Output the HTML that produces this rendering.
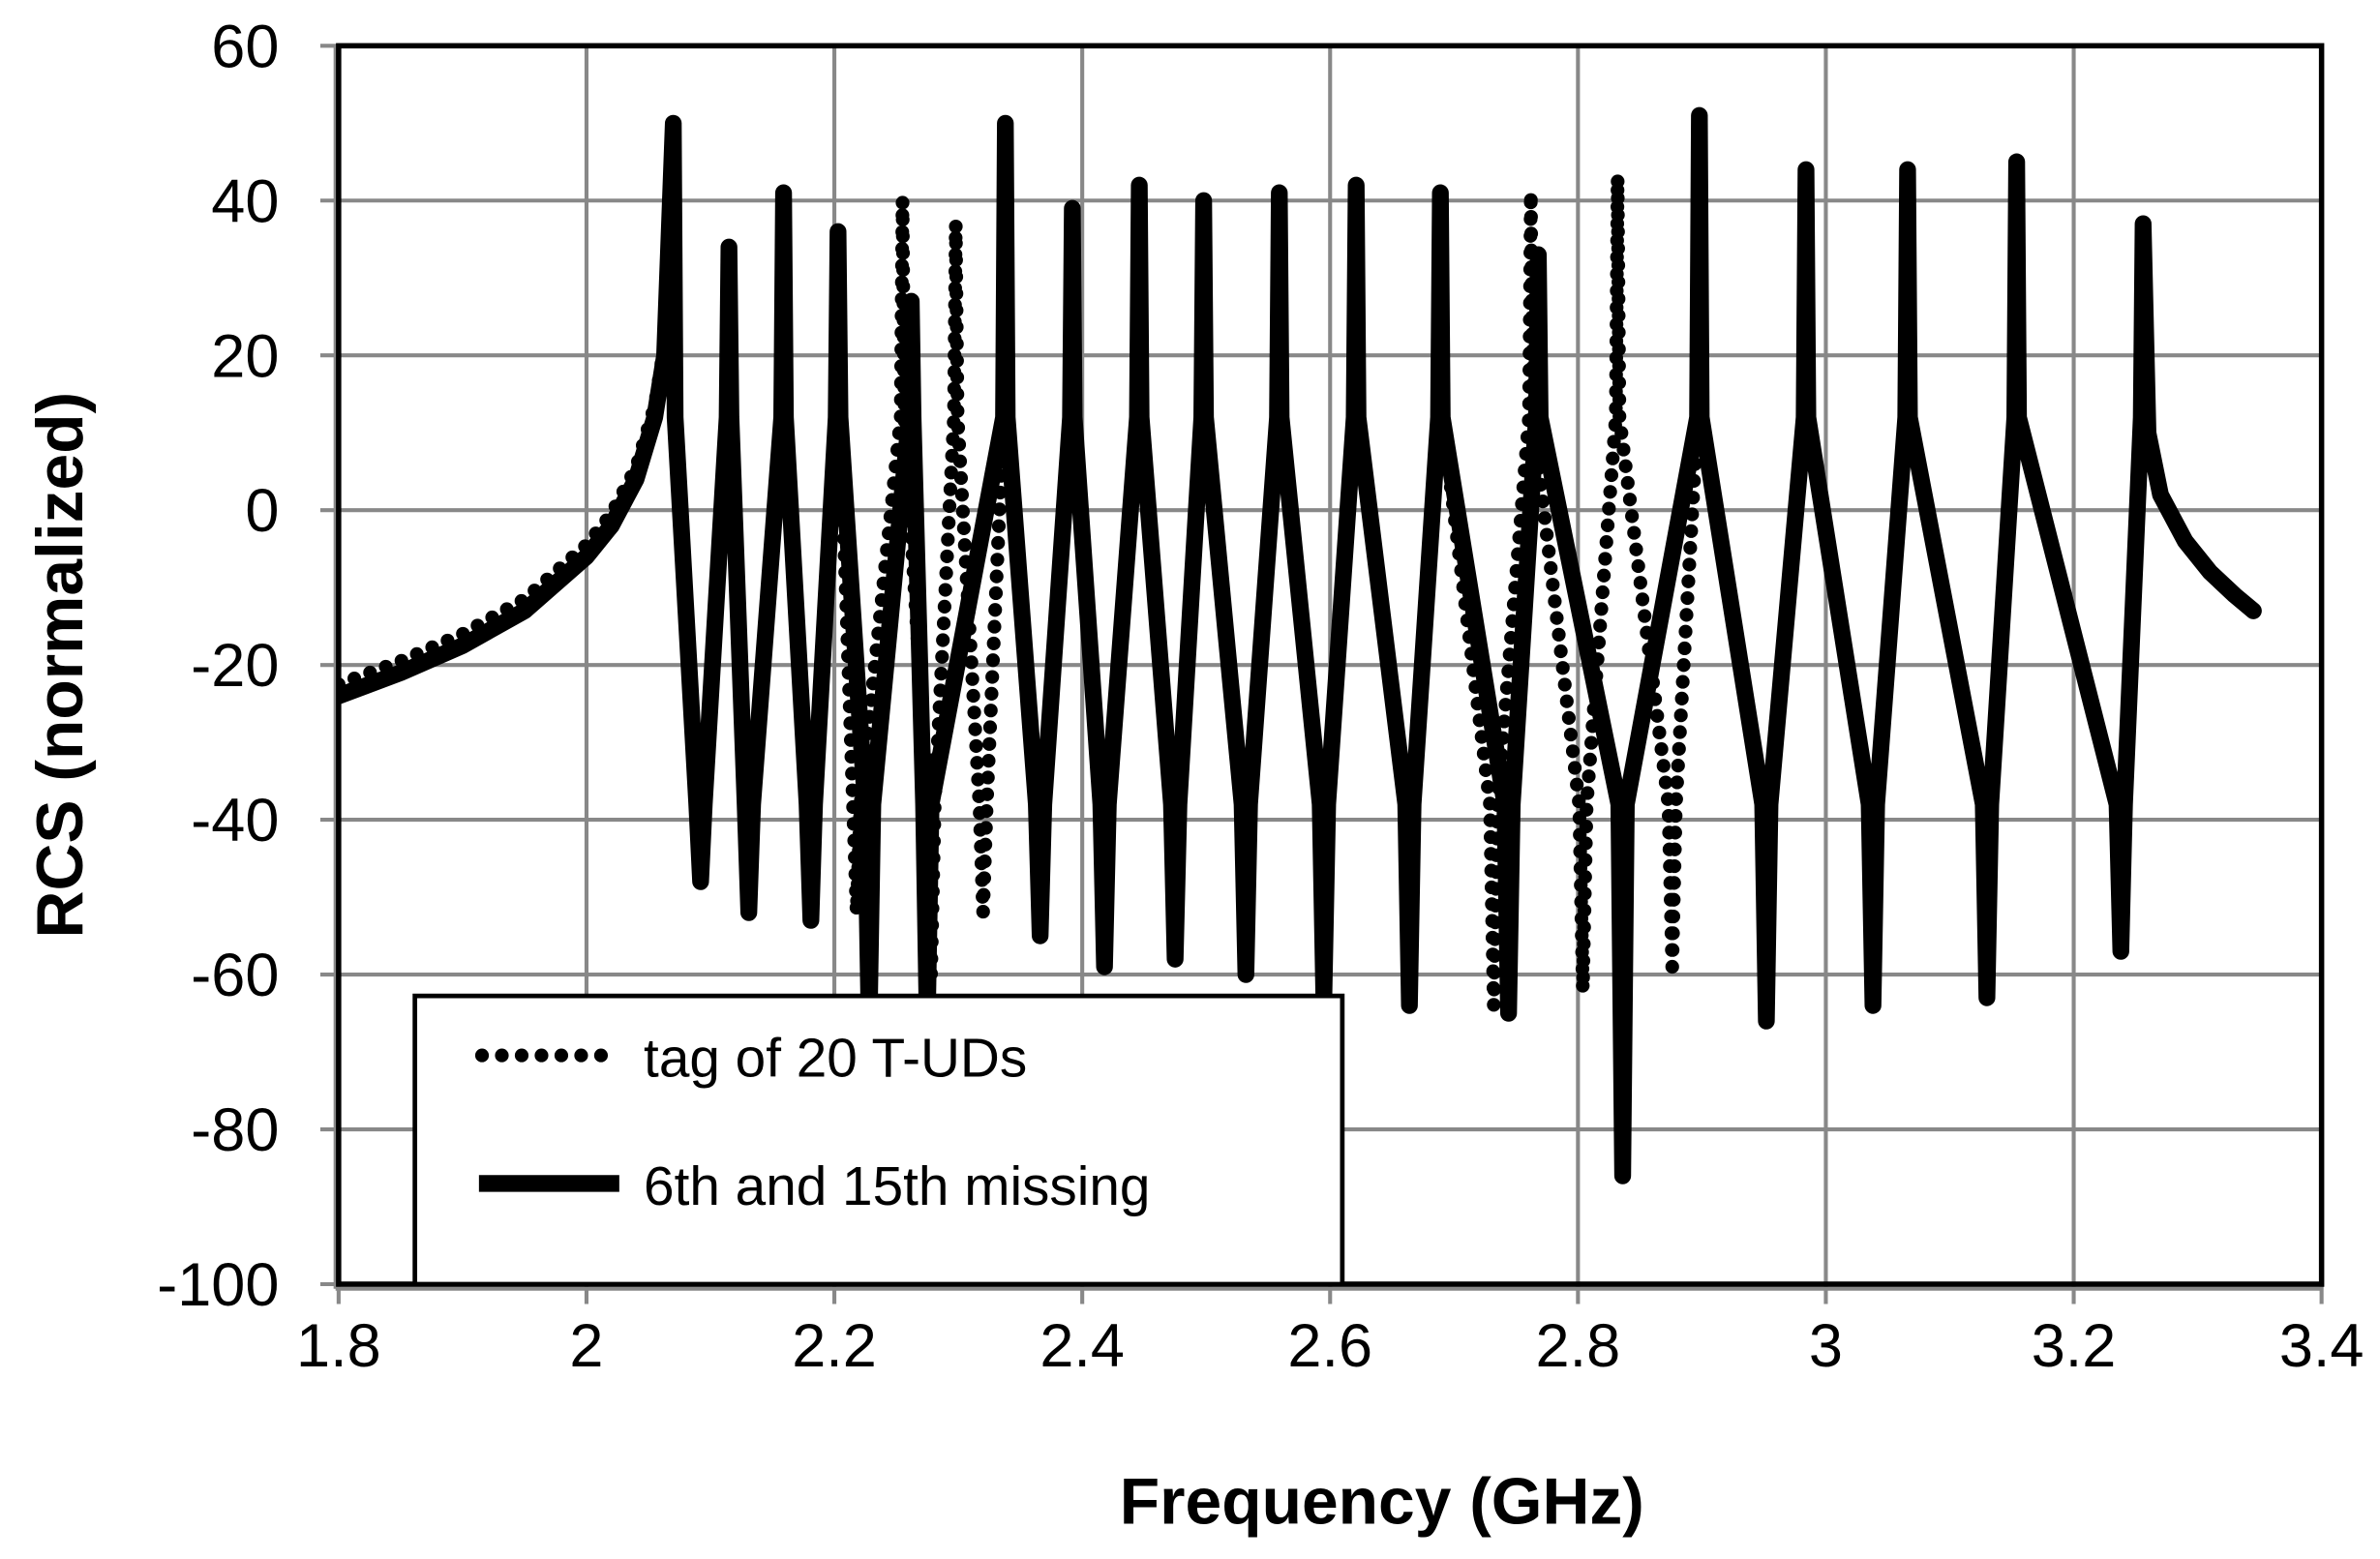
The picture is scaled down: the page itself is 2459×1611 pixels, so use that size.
<!DOCTYPE html>
<html><head><meta charset="utf-8"><style>
html,body{margin:0;padding:0;background:#fff}
svg{display:block}
text{font-family:"Liberation Sans",Arial,sans-serif;fill:#000}
</style></head><body>
<svg id="s" width="2459" height="1611" viewBox="0 0 1560.3 1022.2" xmlns="http://www.w3.org/2000/svg">
<g id="grid" stroke="#888" stroke-width="2.6"></g>
<g id="data"></g>
<rect x="222" y="30" width="1300" height="812" fill="none" stroke="#000" stroke-width="3.5"/>
<g id="lbl" font-size="40"></g>
<text x="906" y="999" font-size="43" font-weight="bold" text-anchor="middle">Frequency (GHz)</text>
<text transform="translate(54,436) rotate(-90)" font-size="43" font-weight="bold" text-anchor="middle">RCS (normalized)</text>
<rect x="272" y="653" width="608" height="189" fill="#fff" stroke="#000" stroke-width="3"/>
<line x1="316" y1="692" x2="404" y2="692" stroke="#000" stroke-width="9" stroke-linecap="round" stroke-dasharray="0 13"/>
<text x="422" y="706" font-size="36">tag of 20 T-UDs</text>
<line x1="314" y1="776" x2="406" y2="776" stroke="#000" stroke-width="11"/>
<text x="422" y="790" font-size="36">6th and 15th missing</text>
</svg>
<script>
var NS="http://www.w3.org/2000/svg";
function X(f){return 222+(f-1.8)*812.5;}
function Y(v){return 30+(60-v)*5.075;}
function el(t,a,p){var e=document.createElementNS(NS,t);for(var k in a)e.setAttribute(k,a[k]);p.appendChild(e);return e;}
var g=document.getElementById('grid'),L=document.getElementById('lbl');
for(var v=-100;v<=60;v+=20){var y=Y(v);el('line',{x1:210,y1:y,x2:1522,y2:y},g);
 var t=el('text',{x:183,y:y+14,'text-anchor':'end'},L);t.textContent=v;}
for(var i=0;i<=8;i++){var f=1.8+i*0.2,x=X(f);el('line',{x1:x,y1:30,x2:x,y2:855},g);
 var t=el('text',{x:x,y:896,'text-anchor':'middle'},L);t.textContent=(Math.round(f*10)/10).toString();}
el('line',{x1:220,y1:30,x2:220,y2:845},g);el('line',{x1:220,y1:845,x2:1522,y2:845},g);

function build(start,list,tail){
 var pts=start.slice();
 for(var i=0;i<list.length-1;i++){
  var a=list[i],b=list[i+1];
  if(a[1]>b[1]){
   pts.push([a[0]+0.0015,Math.min(a[1],12)]);
   pts.push([b[0]-0.003,-38]);
   pts.push([b[0],b[1]]);
  }else{
   pts.push([a[0]+0.003,-38]);
   pts.push([b[0]-0.0015,12]);
   pts.push([b[0],b[1]]);
  }
 }
 pts=pts.concat(tail);
 return pts.map(function(p,i){return (i?'L':'M')+X(p[0]).toFixed(1)+' '+Y(p[1]).toFixed(1);}).join(' ');
}
var startS=[[1.8,-24],[1.85,-21],[1.9,-17.5],[1.95,-13],[2.0,-6],[2.02,-2],[2.04,4],[2.055,12],[2.063,20],[2.07,50]];
var startD=startS.map(function(p){return [p[0],p[1]+1.5];});startD[startD.length-1]=[2.07,50];
var tail=[[3.26,10],[3.27,2],[3.29,-4],[3.31,-8],[3.33,-11],[3.345,-13]];
var common1=[[2.07,50],[2.092,-48],[2.115,34],[2.131,-52],[2.159,41],[2.181,-53],[2.203,36]];
var solidMid1=[[2.228,-66],[2.262,27],[2.275,-66]];
var dotMid1=[[2.218,-52],[2.255,40],[2.278,-60],[2.298,37],[2.32,-52]];
var common2=[[2.338,50],[2.366,-55],[2.392,39],[2.418,-59],[2.446,42],[2.475,-58],[2.498,40],[2.532,-60],[2.559,41],[2.595,-63],[2.621,42],[2.664,-64],[2.689,41]];
var solidMid2=[[2.744,-65],[2.768,33],[2.836,-86]];
var dotMid2=[[2.732,-64],[2.762,41],[2.804,-62],[2.832,43],[2.876,-59]];
var common3=[[2.898,51],[2.952,-66],[2.984,44],[3.038,-64],[3.066,44],[3.13,-63],[3.154,45],[3.238,-57],[3.256,37]];
var S=common1.concat(solidMid1,common2,solidMid2,common3);
var D=common1.concat(dotMid1,common2,dotMid2,common3);
var dg=document.getElementById('data');
var clip=el('clipPath',{id:'c'},document.getElementById('s'));el('rect',{x:222,y:30,width:1300,height:812},clip);
dg.setAttribute('clip-path','url(#c)');
el('path',{d:build(startD,D,tail),fill:'none',stroke:'#000','stroke-width':9,'stroke-linecap':'round','stroke-dasharray':'0 11'},dg);
el('path',{d:build(startS,S,tail),fill:'none',stroke:'#000','stroke-width':11,'stroke-linejoin':'round','stroke-linecap':'round'},dg);
</script>
</body></html>
